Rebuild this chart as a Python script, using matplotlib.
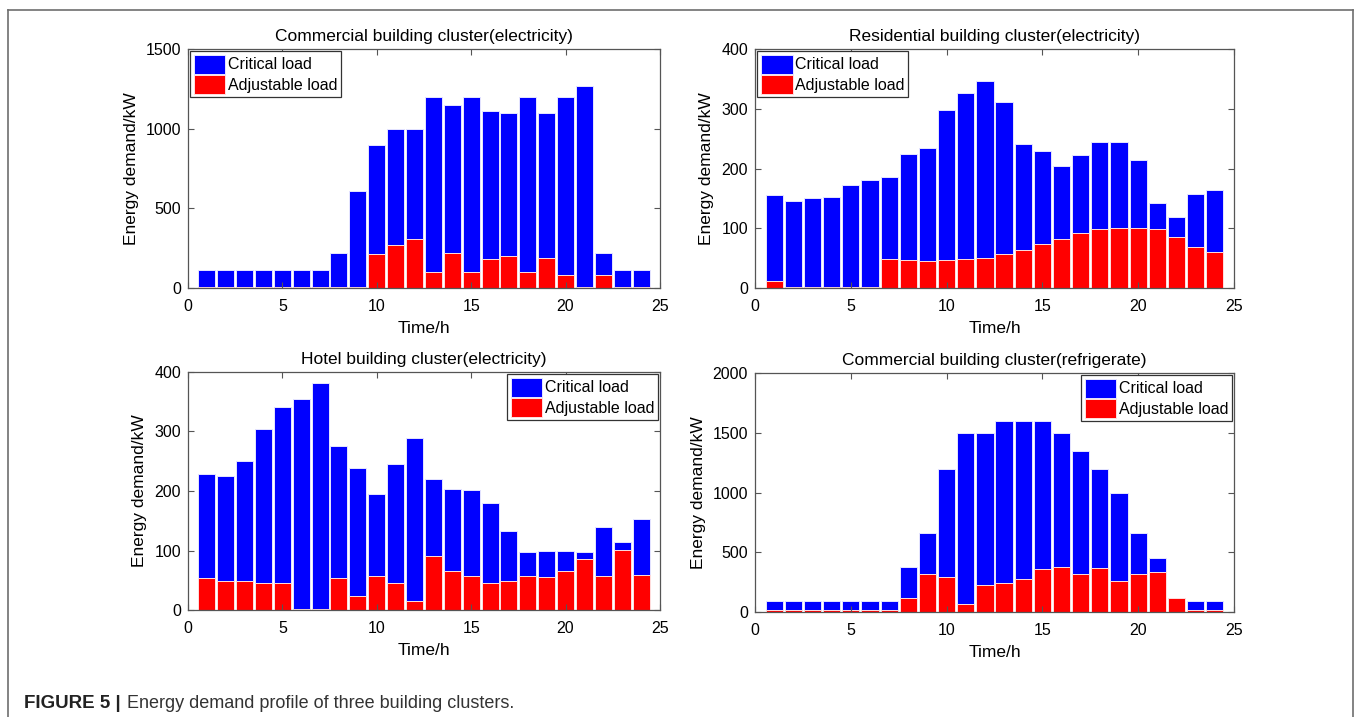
import numpy as np
import matplotlib
matplotlib.use('Agg')
import matplotlib.pyplot as plt
from matplotlib.lines import Line2D

plt.rcParams['font.family'] = ['Liberation Sans', 'DejaVu Sans']

hours = np.arange(1, 25)

# Total load per hour (critical + adjustable) and adjustable part, kW
com_elec_total = [110, 110, 110, 110, 110, 110, 110, 220, 610, 900, 1000, 1000,
                  1200, 1150, 1200, 1110, 1100, 1200, 1100, 1200, 1270, 220, 110, 110]
com_elec_adj = [5, 5, 5, 5, 5, 5, 5, 5, 5, 215, 270, 305,
                100, 220, 100, 180, 200, 100, 190, 80, 5, 80, 5, 5]

res_elec_total = [155, 146, 150, 152, 172, 181, 185, 225, 235, 298, 327, 346,
                  311, 241, 230, 204, 222, 244, 245, 214, 143, 119, 157, 164]
res_elec_adj = [12, 1, 1, 1, 1, 1, 48, 47, 46, 47, 48, 51,
                57, 64, 74, 82, 92, 98, 100, 101, 98, 85, 69, 60]

hotel_elec_total = [229, 225, 251, 304, 341, 354, 381, 275, 239, 195, 246, 289,
                    220, 204, 201, 180, 133, 97, 100, 100, 97, 140, 114, 153]
hotel_elec_adj = [54, 49, 48, 45, 45, 1, 1, 54, 23, 57, 46, 16,
                  90, 66, 57, 46, 48, 57, 56, 65, 86, 57, 101, 59]

com_cool_total = [90, 90, 90, 90, 90, 90, 90, 375, 665, 1200, 1500, 1500,
                  1600, 1600, 1600, 1500, 1350, 1200, 1000, 660, 455, 115, 90, 90]
com_cool_adj = [20, 20, 20, 20, 20, 20, 20, 115, 320, 290, 70, 225,
                245, 280, 360, 380, 320, 370, 260, 320, 335, 115, 20, 20]

titles = ['Commercial building cluster(electricity)',
          'Residential building cluster(electricity)',
          'Hotel building cluster(electricity)',
          'Commercial building cluster(refrigerate)']
ylims = [1500, 400, 400, 2000]
ysteps = [500, 100, 100, 500]
legend_locs = ['upper left', 'upper left', 'upper right', 'upper right']

series = [(com_elec_total, com_elec_adj), (res_elec_total, res_elec_adj),
          (hotel_elec_total, hotel_elec_adj), (com_cool_total, com_cool_adj)]

# axes rectangles in figure fractions (left, bottom, width, height)
rects = [(0.1386, 0.5983, 0.3481, 0.3333),
         (0.5568, 0.5983, 0.3532, 0.3333),
         (0.1386, 0.1492, 0.3481, 0.3320),
         (0.5568, 0.1464, 0.3532, 0.3333)]

fig = plt.figure(figsize=(13.56, 7.17), dpi=100)

# outer frame around the figure panel
frame_kw = dict(color='#6e6e6e', lw=1.2, transform=fig.transFigure)
fig.add_artist(Line2D([0.006, 0.006], [0.0, 0.986], **frame_kw))
fig.add_artist(Line2D([0.006, 0.9975], [0.986, 0.986], **frame_kw))
fig.add_artist(Line2D([0.9975, 0.9975], [0.0, 0.986], **frame_kw))

for rect, (total, adj), title, ymax, ystep, loc in zip(rects, series, titles, ylims,
                                                        ysteps, legend_locs):
    ax = fig.add_axes(rect)
    ax.bar(hours, total, width=0.9, color='#0000ff', edgecolor='#e6e6ff',
           linewidth=0.7, label='Critical load')
    ax.bar(hours, adj, width=0.9, color='#ff0000', edgecolor='#ffe0e0',
           linewidth=0.7, label='Adjustable load')
    ax.set_xlim(0, 25)
    ax.set_ylim(0, ymax)
    ax.set_xticks(np.arange(0, 26, 5))
    ax.set_yticks(np.arange(0, ymax + 1, ystep))
    ax.tick_params(direction='in', top=True, right=True, labelsize=11.5,
                   length=4, width=0.8, color='#555555', pad=5)
    ax.tick_params(axis='x', pad=8)
    for sp in ax.spines.values():
        sp.set_color('#555555')
        sp.set_linewidth(0.9)
    ax.set_title(title, fontsize=12.5, pad=6)
    ax.set_xlabel('Time/h', fontsize=12.5, labelpad=5)
    ax.set_ylabel('Energy demand/kW', fontsize=12.5, labelpad=5)
    leg = ax.legend(loc=loc, fontsize=11.5, handlelength=2.0, handleheight=1.45,
                    labelspacing=0.1, handletextpad=0.15, borderpad=0.2,
                    borderaxespad=0.15, fancybox=False, framealpha=1)
    leg.get_frame().set_edgecolor('#333333')
    leg.get_frame().set_linewidth(0.9)

fig.text(0.0177, 0.0126, 'FIGURE 5 |', fontsize=13.5, fontweight='bold', color='#222222')
fig.text(0.0935, 0.0126, 'Energy demand profile of three building clusters.',
         fontsize=13, color='#333333')

fig.savefig('out.png', dpi=100)
